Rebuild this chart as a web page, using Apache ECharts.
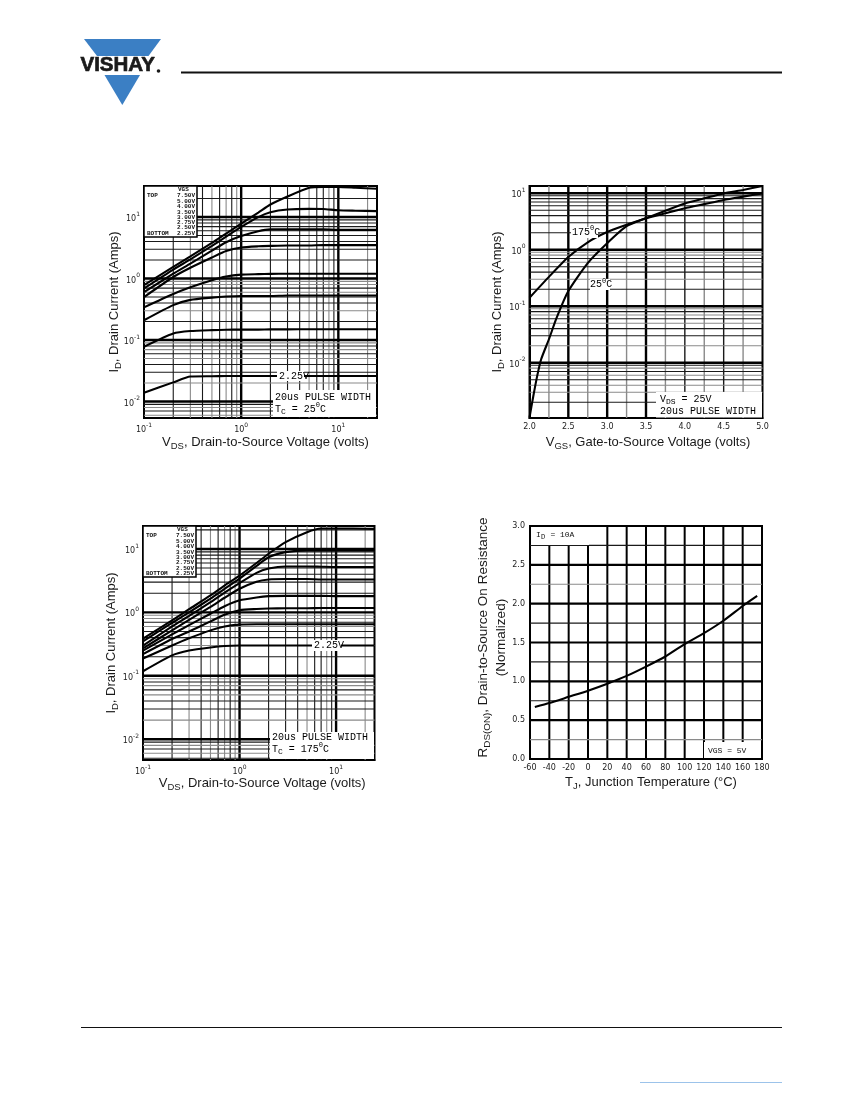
<!DOCTYPE html>
<html><head><meta charset="utf-8">
<style>html,body{margin:0;padding:0;background:#fff}#c{width:850px;height:1100px}</style>
<script src="https://cdn.jsdelivr.net/npm/echarts@6/dist/echarts.min.js"></script>
</head><body><div id="c"></div>
<script>
// ---- data ----
const vdsPts = [0.1,0.2,0.3,0.5,0.7,1,1.5,2,3,5,7,10,15,25];
const c25_750 = [0.78,1.55,2.3,3.8,5.4,7.8,11.8,16,21.6,30,31,31,30,28.8];
const c25_500 = [0.69,1.4,2.05,3.4,4.8,6.9,10,12,13.3,13.6,13.5,12.9,12.7,12.5];
const c25_400 = [0.6,1.2,1.75,2.85,3.9,4.9,5.9,6.3,6.3,6.3,6.3,6.2,6.2,6.2];
const c25_350 = [0.5,1.06,1.5,2.2,2.8,3.2,3.35,3.4,3.45,3.45,3.5,3.5,3.5,3.5];
const c25_300 = [0.34,0.56,0.72,0.94,1.08,1.16,1.18,1.19,1.2,1.2,1.2,1.2,1.2,1.2];
const c25_275 = [0.21,0.37,0.45,0.49,0.51,0.52,0.52,0.52,0.53,0.53,0.53,0.53,0.53,0.53];
const c25_250 = [0.078,0.128,0.14,0.145,0.147,0.148,0.148,0.149,0.149,0.15,0.15,0.15,0.15,0.15];
const c25_225 = [0.0139,0.0205,0.0255,0.0258,0.026,0.026,0.026,0.026,0.026,0.026,0.026,0.026,0.026,0.026];

const c175_750 = [0.385,0.75,1.12,1.85,2.65,3.8,6,8.4,12.8,18.4,21,21,21,20.7];
const c175_500 = [0.35,0.68,1.0,1.65,2.35,3.4,5.4,7.4,8.9,9.5,9.5,9.5,9.5,9.5];
const c175_400 = [0.30,0.6,0.88,1.45,2.05,2.9,4.2,4.9,5.3,5.3,5.25,5.2,5.2,5.2];
const c175_350 = [0.27,0.52,0.76,1.22,1.7,2.36,3.05,3.3,3.35,3.35,3.3,3.3,3.3,3.3];
const c175_300 = [0.25,0.45,0.63,0.95,1.25,1.55,1.72,1.8,1.82,1.82,1.82,1.8,1.8,1.8];
const c175_275 = [0.22,0.38,0.5,0.72,0.92,1.08,1.13,1.15,1.16,1.16,1.17,1.17,1.17,1.17];
const c175_250 = [0.187,0.3,0.39,0.52,0.6,0.64,0.65,0.65,0.65,0.65,0.65,0.65,0.65,0.65];
const c175_225 = [0.118,0.21,0.25,0.28,0.295,0.30,0.30,0.30,0.30,0.30,0.30,0.30,0.30,0.30];

const vgs25Pts = [2.0,2.05,2.1,2.15,2.25,2.35,2.5,2.75,3.0,3.25,3.5,3.75,4.0,4.25,4.5,4.75,5.0];
const tr25 = [0.00107,0.0026,0.0059,0.0115,0.026,0.0625,0.185,0.58,1.3,2.6,3.6,4.9,6.6,8.1,9.9,11.4,13.4];
const vgs175Pts = [2.0,2.25,2.5,2.75,3.0,3.25,3.5,3.75,4.0,4.25,4.5,4.75,5.0];
const tr175 = [0.141,0.33,0.74,1.35,2.05,2.75,3.6,4.4,5.4,6.4,7.6,8.7,9.9];

const tempPts = [-55,-40,-20,0,20,40,60,80,100,120,140,160,175];
const rdsOn = [0.67,0.72,0.80,0.88,0.97,1.07,1.19,1.32,1.48,1.62,1.78,1.97,2.10];

const legendVolts = ['7.50V','5.00V','4.00V','3.50V','3.00V','2.75V','2.50V','2.25V'];
const logXGrid = [0.2,0.3,0.4,0.5,0.6,0.7,0.8,0.9,1,2,3,4,5,6,7,8,9,10,20];
const logXGray = [0.3,0.5,0.7,0.9,5,8,20];
const decades = [0.01,0.1,1,10];
const logYGrid1 = [0.006,0.007,0.008,0.009,0.01,0.02,0.03,0.04,0.05,0.06,0.07,0.08,0.09,0.1,0.2,0.3,0.4,0.5,0.6,0.7,0.8,0.9,1,2,3,4,5,6,7,8,9,10,20];
const logYGrid2 = [0.002,0.003,0.004,0.005,0.006,0.007,0.008,0.009,0.01,0.02,0.03,0.04,0.05,0.06,0.07,0.08,0.09,0.1,0.2,0.3,0.4,0.5,0.6,0.7,0.8,0.9,1,2,3,4,5,6,7,8,9,10];
const logYGrid3 = [0.005,0.006,0.007,0.008,0.009,0.01,0.02,0.03,0.04,0.05,0.06,0.07,0.08,0.09,0.1,0.2,0.3,0.4,0.5,0.6,0.7,0.8,0.9,1,2,3,4,5,6,7,8,9,10,20];
const logYGray = [0.006,0.008,0.02,0.05,0.07,0.09,0.3,0.6,0.8,0.9,0.004,0.003];
const vgsGrid = [2.25,2.5,2.75,3,3.25,3.5,3.75,4,4.25,4.5,4.75];
const vgsHeavy = [2.5,3,3.5];
const vgsGray = [2.25,2.75,3.25,3.75,4.25,4.75];
const tGrid = [-40,-20,0,20,40,60,80,100,120,140,160];
const rGrid = [0.25,0.5,0.75,1,1.25,1.5,1.75,2,2.25,2.5,2.75];
const rHeavy = [0.5,1,1.5,2,2.5];
const rGray = [0.25,2.25];
const ranges = [
  {x:[0.1,25],y:[0.0054,32]},
  {x:[2,5],y:[0.00105,13.4]},
  {x:[0.1,25],y:[0.0047,23]},
  {x:[-60,180],y:[0,3]}
];

// ---- helpers ----
const SANS='"Liberation Sans",Arial,sans-serif', MONO='"Liberation Mono",monospace';
const near=(arr,v)=>arr.some(a=>Math.abs(a-v)<1e-9);
const series=[];
function rule(i,axis,v,w,c){
  const r=ranges[i];
  const data=axis==='x'?[[v,r.y[0]],[v,r.y[1]]]:[[r.x[0],v],[r.x[1],v]];
  series.push({type:'line',xAxisIndex:i,yAxisIndex:i,data,showSymbol:false,symbol:'none',silent:true,z:1,animation:false,
    lineStyle:{width:w,color:c,type:'solid'}});
}
function rules(i,axis,vals,heavy,gray,hw,tw){
  vals.forEach(v=>near(heavy,v)?rule(i,axis,v,hw||2.4,'#000'):near(gray,v)?rule(i,axis,v,tw||1.1,'#8a8a8a'):rule(i,axis,v,tw||1.1,'#1a1a1a'));
}
const pow10=v=>{const l=Math.round(Math.log10(v));return Math.abs(Math.log10(v)-l)<1e-6?`{b|10}{u|${l}}`:'';};
const tickRich={b:{fontFamily:'DejaVu Sans',fontSize:8,color:'#222',verticalAlign:'bottom',lineHeight:12},
                u:{fontFamily:'DejaVu Sans',fontSize:6,color:'#222',verticalAlign:'top',lineHeight:12}};
const mkRich=f=>({a:{fontFamily:SANS,fontSize:f,color:'#1a1a1a',lineHeight:18,verticalAlign:'middle'},
                s:{fontFamily:SANS,fontSize:f*0.73,color:'#1a1a1a',lineHeight:18,verticalAlign:'bottom',padding:[6,0,0,0]}});
function axisCommon(name,gap,rotate,pad,f){
  return {name,nameLocation:'middle',nameGap:gap,nameRotate:rotate,nameMoveOverlap:false,nameTextStyle:{rich:mkRich(f||13),padding:pad||0},
    axisLine:{show:true,onZero:false,lineStyle:{color:'#000',width:2}},axisTick:{show:false},splitLine:{show:false},minorSplitLine:{show:false}};
}
function logAxis(i,r,name,gap,rotate,pad){
  return Object.assign(axisCommon(name,gap,rotate,pad),{type:'log',logBase:10,gridIndex:i,min:r[0],max:r[1],
    axisLabel:{formatter:pow10,rich:tickRich,margin:4,showMinLabel:true,showMaxLabel:true,hideOverlap:false}});
}
function valAxis(i,r,step,digits,name,gap,rotate,pad,f){
  return Object.assign(axisCommon(name,gap,rotate,pad,f),{type:'value',gridIndex:i,min:r[0],max:r[1],interval:step,
    axisLabel:{formatter:v=>digits?v.toFixed(digits):String(v),fontFamily:'DejaVu Sans',fontSize:8,color:'#222',margin:5}});
}
function curve(i,xs,ys){
  series.push({type:'line',xAxisIndex:i,yAxisIndex:i,data:xs.map((x,k)=>[x,ys[k]]),smooth:0.2,showSymbol:false,symbol:'none',
    lineStyle:{color:'#000',width:2.1},z:3,silent:true,animation:false});
}
const grids=[
 {left:144,top:186,width:233,height:232},
 {left:529.5,top:186,width:233,height:232},
 {left:143,top:526,width:231.5,height:234},
 {left:530,top:526,width:232,height:233}
].map(g=>Object.assign(g,{show:true,borderColor:'#000',borderWidth:2,backgroundColor:'#fff',containLabel:false}));

const xName1='{a|V}{s|DS}{a|, Drain-to-Source Voltage (volts)}';
const yNameI='{a|I}{s|D}{a|, Drain Current (Amps)}';
const xAxes=[
 logAxis(0,ranges[0].x,xName1,15,0,[0,0,0,10]),
 valAxis(1,ranges[1].x,0.5,1,'{a|V}{s|GS}{a|, Gate-to-Source Voltage (volts)}',15,0,[0,0,0,4]),
 logAxis(2,ranges[2].x,xName1,14,0,[0,0,0,7]),
 valAxis(3,ranges[3].x,20,0,'{a|T}{s|J}{a|, Junction Temperature (\u00B0C)}',14,0,[0,0,0,10])
];
const yAxes=[
 logAxis(0,ranges[0].y,yNameI,21,90),
 logAxis(1,ranges[1].y,yNameI,23.5,90),
 logAxis(2,ranges[2].y,yNameI,23,90),
 valAxis(3,ranges[3].y,0.5,1,'{a|R}{s|DS(ON)}{a|, Drain-to-Source On Resistance}\n{a|(Normalized)}',20,90,[0,0,0,10],13.5)
];
rules(0,'x',logXGrid,[1,10],logXGray); rules(0,'y',logYGrid1,decades,logYGray);
rules(1,'x',vgsGrid,vgsHeavy,vgsGray,2.4,1.4); rules(1,'y',logYGrid2,decades,logYGray);
rules(2,'x',logXGrid,[1,10],logXGray); rules(2,'y',logYGrid3,decades,logYGray);
rules(3,'x',tGrid,tGrid,[],2); rules(3,'y',rGrid,rHeavy,rGray,2.2,1.1);
[c25_750,c25_500,c25_400,c25_350,c25_300,c25_275,c25_250,c25_225].forEach(d=>curve(0,vdsPts,d));
curve(1,vgs25Pts,tr25); curve(1,vgs175Pts,tr175);
[c175_750,c175_500,c175_400,c175_350,c175_300,c175_275,c175_250,c175_225].forEach(d=>curve(2,vdsPts,d));
curve(3,tempPts,rdsOn);

// ---- page furniture and annotations ----
const Z=20;
const box=(x,y,w,h,border)=>({type:'rect',z:Z,silent:true,shape:{x,y,width:w,height:h},style:{fill:'#fff',stroke:border?'#000':null,lineWidth:border?1.5:0}});
const noteRich={a:{fontFamily:MONO,fontSize:10,color:'#111',lineHeight:14,verticalAlign:'middle'},
  s:{fontFamily:MONO,fontSize:8,color:'#111',lineHeight:14,verticalAlign:'bottom'},
  u:{fontFamily:MONO,fontSize:7,color:'#111',lineHeight:14,verticalAlign:'top'}};
const note=(x,y,text)=>({type:'text',z:Z+1,silent:true,x,y,style:{text,rich:noteRich,verticalAlign:'middle',align:'left'}});
const tiny=(x,y,text,size)=>({type:'text',z:Z+1,silent:true,x,y,style:{text,fontFamily:MONO,fontWeight:'bold',fontSize:size||6,fill:'#111',verticalAlign:'middle',align:'left'}});
function legendBox(x,y,rows){
  const out=[box(x,y,53,51,true),tiny(x+34,rows[0],'VGS'),tiny(x+3,rows[1],'TOP'),tiny(x+3,rows[8],'BOTTOM')];
  legendVolts.forEach((t,k)=>out.push(tiny(x+33,rows[k+1],t)));
  return out;
}
const graphic=[
 {type:'polygon',silent:true,shape:{points:[[84,39],[161,39],[148.5,56],[97,56]]},style:{fill:'#3b7fc4'}},
 {type:'polygon',silent:true,shape:{points:[[104.5,75],[140,75],[122.3,105]]},style:{fill:'#3b7fc4'}},
 {type:'text',silent:true,x:80.5,y:65.5,style:{text:'VISHAY',fontFamily:SANS,fontWeight:'bold',fontSize:20.5,fill:'#1a1a1a',stroke:'#1a1a1a',lineWidth:0.7,verticalAlign:'middle',align:'left'}},
 {type:'circle',silent:true,shape:{cx:158.5,cy:71,r:1.8},style:{fill:'#1a1a1a'}},
 {type:'rect',silent:true,shape:{x:181,y:71.5,width:601,height:2},style:{fill:'#111'}},
 {type:'rect',silent:true,shape:{x:81,y:1027,width:701,height:1},style:{fill:'#111'}},
 {type:'rect',silent:true,shape:{x:640,y:1082,width:142,height:1},style:{fill:'#9cc3ea'}},
 ...legendBox(144,186,[189.5,195,201,206,212,217,222,227,233]),
 box(277,371,27,10), note(279,376.5,'{a|2.25V}'),
 box(273,390,103,27), note(275,397,'{a|20us PULSE WIDTH}'), note(275,409,'{a|T}{s|C}{a| = 25}{u|0}{a|C}'),
 box(571,227,27,11), note(572,232,'{a|175}{u|0}{a|C}'),
 box(590,279,20,11), note(590,284.5,'{a|25}{u|0}{a|C}'),
 box(656,392,106,25.5), note(660,399,'{a|V}{s|DS}{a| = 25V}'), note(660,411.5,'{a|20us PULSE WIDTH}'),
 ...legendBox(143,526,[529.5,535,541,546,552,557,562,568,573]),
 box(312,640,29,11), note(314,645.5,'{a|2.25V}'),
 box(270,732,104,27), note(272,737,'{a|20us PULSE WIDTH}'), note(272,749,'{a|T}{s|C}{a| = 175}{u|0}{a|C}'),
 box(531,527,58,18), {type:'text',z:Z+1,silent:true,x:536,y:535,style:{text:'I  = 10A',fontFamily:MONO,fontSize:8,fill:'#111',verticalAlign:'middle'}},
 {type:'text',z:Z+1,silent:true,x:541,y:537.5,style:{text:'D',fontFamily:MONO,fontSize:7,fill:'#111',verticalAlign:'middle'}},
 box(704,742,57,16), {type:'text',z:Z+1,silent:true,x:708,y:751,style:{text:'VGS = 5V',fontFamily:MONO,fontSize:8,fill:'#111',verticalAlign:'middle'}}
];
const chart=echarts.init(document.getElementById('c'),null,{renderer:'canvas',width:850,height:1100});
chart.setOption({animation:false,backgroundColor:'#fff',grid:grids,xAxis:xAxes,yAxis:yAxes,series,graphic});
</script></body></html>
